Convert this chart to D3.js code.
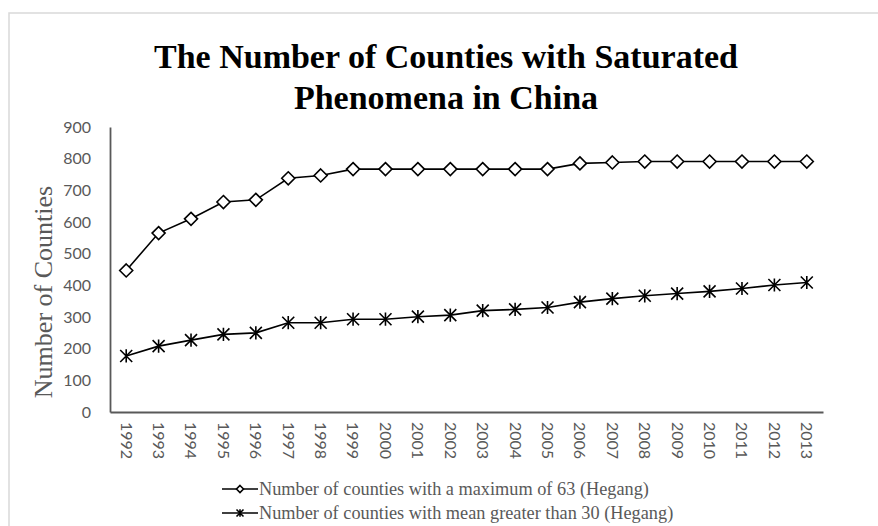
<!DOCTYPE html>
<html>
<head>
<meta charset="utf-8">
<script src="https://cdn.jsdelivr.net/npm/d3@7"></script>
<style>
  body { margin: 0; background: #fff; }
  svg { display: block; }
</style>
</head>
<body>
<div id="chart"></div>
<script>
// --- data ---
const years = ["1992","1993","1994","1995","1996","1997","1998","1999","2000","2001","2002",
               "2003","2004","2005","2006","2007","2008","2009","2010","2011","2012","2013"];
const maxCounties  = [447,565,610,663,670,738,747,767,767,767,767,767,767,767,785,788,791,791,791,791,791,791];
const meanCounties = [177,208,227,245,250,282,282,293,293,301,306,320,324,330,347,358,367,374,381,390,401,409];
const yTicks = [0,100,200,300,400,500,600,700,800,900];
const legendLabels = [
  "Number of counties with a maximum of 63 (Hegang)",
  "Number of counties with mean greater than 30 (Hegang)"
];

const W = 878, H = 526;
const grey = "#595959";
const serif = "'Liberation Serif', 'DejaVu Serif', serif";
const sans = "Lato, 'Open Sans', sans-serif";

const svg = d3.select("#chart").append("svg")
    .attr("width", W).attr("height", H);

// chart frame (extends past the right edge like the original)
svg.append("rect")
    .attr("x", 9).attr("y", 13).attr("width", 874).attr("height", 530)
    .attr("fill", "none").attr("stroke", "#d9d9d9").attr("stroke-width", 1.5);

// title
const title = svg.append("text")
    .attr("text-anchor", "middle")
    .style("font-family", serif).style("font-weight", "bold")
    .style("font-size", "34px").attr("fill", "#000");
title.append("tspan").attr("x", 446).attr("y", 68).text("The Number of Counties with Saturated");
title.append("tspan").attr("x", 446).attr("y", 109).text("Phenomena in China");

const plot = { left: 110, right: 823, top: 127, bottom: 412 };

const x = d3.scaleBand().domain(years).range([plot.left, plot.right]);
const y = d3.scaleLinear().domain([0, 900]).range([plot.bottom, plot.top]);
const cx = d => x(d) + x.bandwidth() / 2;

// y axis
const yAxis = svg.append("g")
    .attr("transform", `translate(${plot.left},0)`)
    .call(d3.axisLeft(y).tickValues(yTicks).tickSize(0).tickPadding(19));
yAxis.select(".domain").attr("stroke", grey).attr("stroke-width", 1.8);
yAxis.selectAll("text").attr("fill", grey)
    .style("font-family", sans).style("font-size", "16px");

// x axis
const xAxis = svg.append("g")
    .attr("transform", `translate(0,${plot.bottom})`)
    .call(d3.axisBottom(x).tickSize(0).tickSizeOuter(0));
xAxis.select(".domain").attr("stroke", grey).attr("stroke-width", 1.8);
xAxis.selectAll("text")
    .attr("fill", grey)
    .style("font-family", sans).style("font-size", "16px")
    .attr("transform", "rotate(90)")
    .attr("text-anchor", "start")
    .attr("x", 10).attr("y", 0).attr("dy", "0.35em");

// y axis title
svg.append("text")
    .attr("transform", `translate(52,292) rotate(-90)`)
    .attr("text-anchor", "middle")
    .attr("fill", grey)
    .style("font-family", serif).style("font-size", "26px")
    .text("Number of Counties");

// lines
const line = d3.line().x((d, i) => cx(years[i])).y(d => y(d));

svg.append("path").datum(maxCounties)
    .attr("d", line).attr("fill", "none").attr("stroke", "#000").attr("stroke-width", 1.6);
svg.append("path").datum(meanCounties)
    .attr("d", line).attr("fill", "none").attr("stroke", "#000").attr("stroke-width", 1.6);

// markers
function diamond(g, s) {
  g.append("path")
      .attr("d", `M0,${-s}L${s},0L0,${s}L${-s},0Z`)
      .attr("fill", "#fff").attr("stroke", "#000").attr("stroke-width", 1.6);
}
function star(g, s) {
  g.append("path")
      .attr("d", `M${-s},${-s}L${s},${s}M${-s},${s}L${s},${-s}M0,${-s * 1.1}L0,${s * 1.1}`)
      .attr("fill", "none").attr("stroke", "#000").attr("stroke-width", 1.6);
}

svg.append("g").selectAll("g").data(maxCounties).join("g")
    .attr("transform", (d, i) => `translate(${cx(years[i])},${y(d)})`)
    .each(function () { diamond(d3.select(this), 6.5); });

svg.append("g").selectAll("g").data(meanCounties).join("g")
    .attr("transform", (d, i) => `translate(${cx(years[i])},${y(d)})`)
    .each(function () { star(d3.select(this), 6); });

// legend
const legend = svg.append("g");
const markers = [diamond, star];
legendLabels.forEach((lab, i) => {
  const ly = 489 + i * 24;
  const g = legend.append("g").attr("transform", `translate(222,${ly})`);
  g.append("line").attr("x1", 0).attr("x2", 36).attr("y1", 0).attr("y2", 0)
      .attr("stroke", "#000").attr("stroke-width", 1.6);
  const m = g.append("g").attr("transform", "translate(18,0)");
  markers[i](m, 3.5);
  g.append("text").attr("x", 37).attr("y", 0).attr("dy", "0.35em")
      .attr("fill", grey)
      .style("font-family", serif).style("font-size", "18.3px")
      .text(lab);
});
</script>
</body>
</html>
